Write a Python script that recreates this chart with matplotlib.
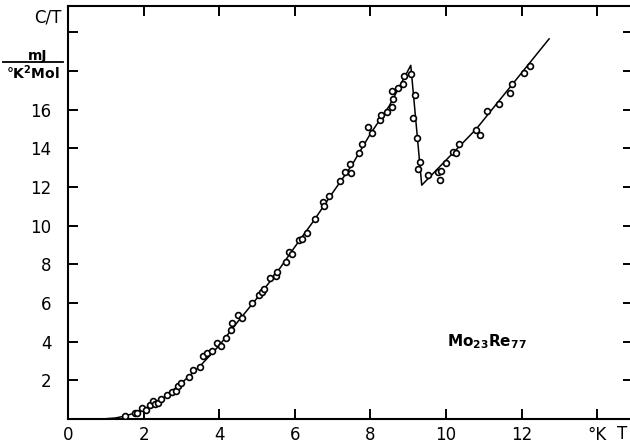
import numpy as np
import matplotlib
matplotlib.use("Agg")
import matplotlib.pyplot as plt
import matplotlib.transforms as mtransforms

# measured points, T in K, C/T in mJ/(K^2 mol)
temp_pts = [1.50, 1.77, 1.83, 1.97, 2.06, 2.17, 2.24, 2.30, 2.37, 2.46, 2.63, 2.75,
            2.86, 2.92, 2.98, 3.20, 3.32, 3.49, 3.58, 3.69, 3.80, 3.95, 4.05, 4.17,
            4.30, 4.35, 4.49, 4.60, 4.88, 5.05, 5.13, 5.19, 5.34, 5.50, 5.52, 5.77,
            5.84, 5.94, 6.10, 6.19, 6.32, 6.53, 6.74, 6.77, 6.91, 7.19, 7.32, 7.47,
            7.50, 7.71, 7.78, 7.94, 8.05, 8.25, 8.29, 8.45, 8.56, 8.56, 8.61, 8.74,
            8.87, 8.88, 9.07, 9.18, 9.14, 9.23, 9.31, 9.27,
            9.53, 9.80, 9.86, 9.84, 9.99, 10.18, 10.26, 10.35, 10.79, 10.90, 11.08,
            11.40, 11.70, 11.76, 12.06, 12.22]
ct_pts = [0.16, 0.33, 0.33, 0.59, 0.47, 0.73, 0.92, 0.78, 0.85, 1.02, 1.26, 1.40,
          1.47, 1.71, 1.85, 2.19, 2.54, 2.71, 3.26, 3.40, 3.54, 3.92, 3.78, 4.18,
          4.61, 4.97, 5.37, 5.21, 5.98, 6.40, 6.58, 6.75, 7.31, 7.38, 7.62, 8.10,
          8.62, 8.55, 9.25, 9.33, 9.65, 10.36, 11.23, 11.00, 11.55, 12.32, 12.80, 13.19,
          12.75, 13.78, 14.22, 15.10, 14.80, 15.49, 15.75, 15.86, 16.12, 16.96, 16.58, 17.13,
          17.34, 17.74, 17.86, 16.74, 15.60, 14.54, 13.28, 12.93,
          12.64, 12.78, 12.82, 12.38, 13.24, 13.80, 13.76, 14.23, 14.97, 14.72, 15.92,
          16.32, 16.87, 17.34, 17.91, 18.29]

# hand drawn curve through the points
curve_t = [0.9, 1.25, 1.5, 1.75, 2.0, 2.5, 3.0, 3.5, 4.0, 4.5, 5.0, 5.5, 6.0, 6.5,
           7.0, 7.5, 8.0, 8.5, 9.07, 9.36, 10.8, 12.73]
curve_ct = [0.0, 0.05, 0.15, 0.3, 0.5, 1.05, 1.85, 2.75, 3.8, 5.05, 6.25, 7.5, 8.9,
            10.25, 11.7, 13.1, 14.75, 16.2, 18.3, 12.1, 15.0, 19.67]

x_ticks = [0, 2, 4, 6, 8, 10, 12, 14]
x_labels = ['0', '2', '4', '6', '8', '10', '12', '°K']
y_ticks = [2, 4, 6, 8, 10, 12, 14, 16, 18, 20]
y_labels = ['2', '4', '6', '8', '10', '12', '14', '16', '', '']

plt.rcParams['font.family'] = ['DejaVu Sans']
plt.rcParams['mathtext.default'] = 'regular'

fig = plt.figure(figsize=(6.3, 4.45), dpi=100)
ax = fig.add_axes([68/630, 26/445, 565/630, 413/445])

ax.plot(curve_t, curve_ct, color='black', lw=1.1, zorder=2)
ax.plot(temp_pts, ct_pts, 'o', ms=4.2, mfc='white', mec='black', mew=1.2, zorder=3)

ax.set_xlim(0, 14.95)
ax.set_ylim(0, 21.37)
ax.set_xticks(x_ticks, x_labels)
ax.set_yticks(y_ticks, y_labels)
ax.tick_params(direction='in', length=7, width=1.4, labelsize=12,
               top=True, right=True, colors='black')
ax.tick_params(axis='x', pad=5)
ax.tick_params(axis='y', pad=12)
for sp in ax.spines.values():
    sp.set_linewidth(1.5)

trans = mtransforms.blended_transform_factory(ax.transData, ax.transAxes)
ax.text(14.66, -0.036, 'T', transform=trans, ha='center', va='center', fontsize=12)

# y axis unit label
ax.annotate('C/T', xy=(48/630, 1 - 18/445), xycoords='figure fraction',
            ha='center', va='center', fontsize=12)
ax.annotate('mJ', xy=(38/630, 1 - 56/445), xycoords='figure fraction',
            ha='center', va='center', fontsize=10, fontweight='bold')
fig.add_artist(plt.Line2D([3/630, 63/630], [1 - 62/445, 1 - 62/445],
                          color='black', lw=1.3, transform=fig.transFigure))
ax.annotate('°K$^2$Mol', xy=(33/630, 1 - 73/445), xycoords='figure fraction',
            ha='center', va='center', fontsize=10, fontweight='bold')

ax.text(11.08, 3.98, r'Mo$_{23}$Re$_{77}$', ha='center', va='center',
        fontsize=11, fontweight='bold')

plt.savefig('out.png', dpi=100)
